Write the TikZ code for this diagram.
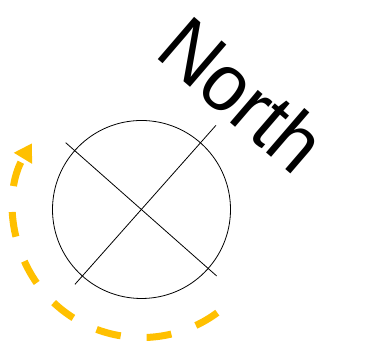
\documentclass[tikz,border=0pt]{standalone}
\usepackage{fontspec}
\setmainfont{Liberation Sans}
\usetikzlibrary{arrows.meta}
\definecolor{gold}{HTML}{FFC000}
\tikzset{
  thinline/.style={draw=black, line width=0.8pt},
  rotarrow/.style={draw=gold, line width=7pt, dash pattern=on 25pt off 26pt, -{Triangle[width=20pt,length=17.6pt]}},
  bigtext/.style={font=\fontsize{81}{95}\selectfont, inner sep=0pt, anchor=base west, rotate=-40.7, xscale=0.94}
}
\begin{document}
\begin{tikzpicture}[x=1pt,y=1pt]
\useasboundingbox (0,0) rectangle (384,352);
\node[thinline, circle, minimum size=178pt, inner sep=0pt] (dial) at (141.5,142.5) {};
\coordinate (a1) at (65.7,209.3);
\coordinate (a2) at (216.7,76);
\coordinate (b1) at (75,67.7);
\coordinate (b2) at (216,226.7);
\draw[thinline] (a1) -- (a2);
\draw[thinline] (b1) -- (b2);
\coordinate (arcstart) at (217.3,39.3);
\draw[rotarrow] (arcstart) arc[start angle=-53.7, end angle=-211.2, radius=128];
\node[bigtext] (north) at (152.9,296.5) {North};
\end{tikzpicture}
\end{document}
